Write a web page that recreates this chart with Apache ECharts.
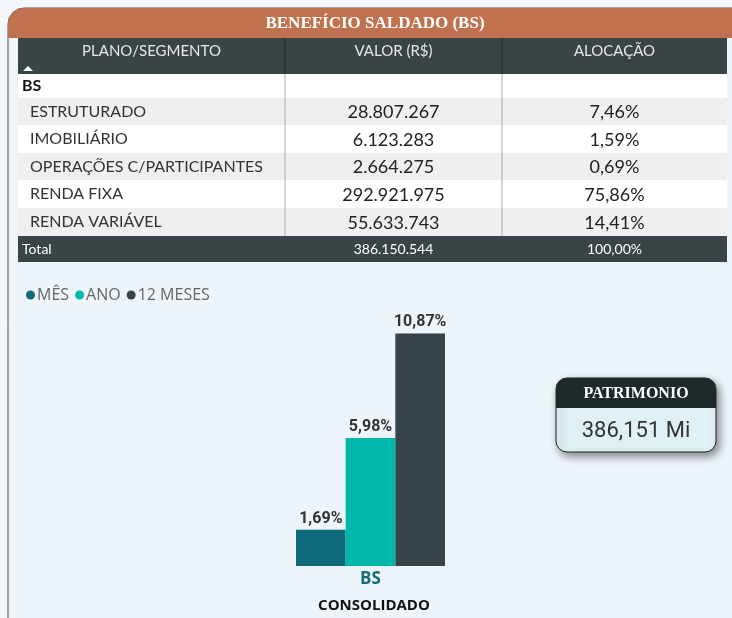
<!DOCTYPE html>
<html>
<head>
<meta charset="utf-8">
<script src="https://cdn.jsdelivr.net/npm/echarts@6/dist/echarts.min.js"></script>
<style>
  html, body { margin: 0; padding: 0; background: #f4f7fa; }
  #chart { width: 732px; height: 618px; }
</style>
</head>
<body>
<div id="chart"></div>
<script>
// dados da tabela
const titulo = 'BENEFÍCIO SALDADO (BS)';
const colunas = ['PLANO/SEGMENTO', 'VALOR (R$)', 'ALOCAÇÃO'];
const plano = 'BS';
const segmentos = ['ESTRUTURADO', 'IMOBILIÁRIO', 'OPERAÇÕES C/PARTICIPANTES', 'RENDA FIXA', 'RENDA VARIÁVEL'];
const valores = [28807267, 6123283, 2664275, 292921975, 55633743];
const alocacao = [7.46, 1.59, 0.69, 75.86, 14.41];
const totalValor = 386150544;
const totalAlocacao = 100.00;

// rentabilidade
const categorias = ['BS'];
const periodos = ['MÊS', 'ANO', '12 MESES'];
const rentabilidade = [1.69, 5.98, 10.87];
const cores = ['#0e6a7b', '#00b8a9', '#37454b'];
const patrimonio = '386,151 Mi';

function fmtInt(n){ return String(n).replace(/\B(?=(\d{3})+(?!\d))/g, '.'); }
function fmtPct(v){ return v.toFixed(2).replace('.', ',') + '%'; }

const chart = echarts.init(document.getElementById('chart'));

// layout da tabela
const tx = [18, 285, 502, 727];
const rowTops = [74, 98, 125, 153, 180, 208, 236, 262];
const bodyFont = 'Lato, "Open Sans", sans-serif';

const g = [];
// painel
g.push({ type: 'rect', shape: { x: 8, y: 8, width: 740, height: 640, r: 16 },
  style: { fill: '#edf4fa', stroke: '#4a4f52', lineWidth: 1 }, z: 0 });
g.push({ type: 'rect', shape: { x: 8, y: 8, width: 740, height: 30, r: [16, 16, 0, 0] },
  style: { fill: '#c0714e' }, z: 1 });
g.push({ type: 'text', x: 375, y: 24, style: { text: titulo, fill: '#fff', font: 'bold 17px "Liberation Serif", "DejaVu Serif", serif',
  align: 'center', verticalAlign: 'middle' }, z: 2 });
// cabeçalho
g.push({ type: 'rect', shape: { x: tx[0], y: 38, width: tx[3] - tx[0], height: 36 }, style: { fill: '#3a4446' }, z: 1 });
colunas.forEach((c, i) => {
  g.push({ type: 'text', x: (tx[i] + tx[i + 1]) / 2, y: 51, style: { text: c, fill: '#e6e6e6', font: '15px ' + bodyFont,
    align: 'center', verticalAlign: 'middle' }, z: 2 });
});
[1, 2].forEach(i => g.push({ type: 'line', shape: { x1: tx[i], y1: 38, x2: tx[i], y2: 74 }, style: { stroke: '#222', lineWidth: 1 }, z: 2 }));
g.push({ type: 'polygon', shape: { points: [[23, 71], [33, 71], [28, 66]] }, style: { fill: '#fff' }, z: 2 });

// linha BS
g.push({ type: 'rect', shape: { x: tx[0], y: rowTops[0], width: tx[3] - tx[0], height: rowTops[1] - rowTops[0] }, style: { fill: '#fff' }, z: 1 });
g.push({ type: 'text', x: 22, y: (rowTops[0] + rowTops[1]) / 2, style: { text: plano, fill: '#111', font: 'bold 16px ' + bodyFont,
  verticalAlign: 'middle' }, z: 2 });
segmentos.forEach((s, i) => {
  const y0 = rowTops[i + 1], y1 = rowTops[i + 2], cy = (y0 + y1) / 2;
  g.push({ type: 'rect', shape: { x: tx[0], y: y0, width: tx[3] - tx[0], height: y1 - y0 }, style: { fill: i % 2 === 0 ? '#efefef' : '#fff' }, z: 1 });
  g.push({ type: 'text', x: 30, y: cy, style: { text: s, fill: '#333', font: '16px ' + bodyFont, verticalAlign: 'middle' }, z: 2 });
  g.push({ type: 'text', x: (tx[1] + tx[2]) / 2, y: cy + 1, style: { text: fmtInt(valores[i]), fill: '#222', font: '18px ' + bodyFont,
    align: 'center', verticalAlign: 'middle' }, z: 2 });
  g.push({ type: 'text', x: (tx[2] + tx[3]) / 2, y: cy + 1, style: { text: fmtPct(alocacao[i]), fill: '#222', font: '18px ' + bodyFont,
    align: 'center', verticalAlign: 'middle' }, z: 2 });
});
[1, 2].forEach(i => g.push({ type: 'line', shape: { x1: tx[i], y1: rowTops[0], x2: tx[i], y2: rowTops[6] }, style: { stroke: '#aaa', lineWidth: 1 }, z: 2 }));
// total
const ty = (rowTops[6] + rowTops[7]) / 2;
g.push({ type: 'rect', shape: { x: tx[0], y: rowTops[6], width: tx[3] - tx[0], height: rowTops[7] - rowTops[6] }, style: { fill: '#3a4446' }, z: 1 });
g.push({ type: 'text', x: 22, y: ty, style: { text: 'Total', fill: '#fff', font: '14px ' + bodyFont, verticalAlign: 'middle' }, z: 2 });
g.push({ type: 'text', x: (tx[1] + tx[2]) / 2, y: ty, style: { text: fmtInt(totalValor), fill: '#fff', font: '14px ' + bodyFont,
  align: 'center', verticalAlign: 'middle' }, z: 2 });
g.push({ type: 'text', x: (tx[2] + tx[3]) / 2, y: ty, style: { text: fmtPct(totalAlocacao), fill: '#fff', font: '14px ' + bodyFont,
  align: 'center', verticalAlign: 'middle' }, z: 2 });

// rótulo consolidado
g.push({ type: 'text', x: 374, y: 606, style: { text: 'CONSOLIDADO', fill: '#111', font: 'bold 15px "Open Sans", sans-serif',
  align: 'center', verticalAlign: 'middle' }, z: 2 });

// cartão patrimonio
g.push({ type: 'rect', shape: { x: 556, y: 378, width: 160, height: 74, r: 11 },
  style: { fill: '#dff1f5', stroke: '#222', lineWidth: 1, shadowBlur: 8, shadowOffsetX: 3, shadowOffsetY: 4, shadowColor: 'rgba(0,0,0,0.45)' }, z: 3 });
g.push({ type: 'rect', shape: { x: 556, y: 378, width: 160, height: 30, r: [11, 11, 0, 0] }, style: { fill: '#1e2a29' }, z: 4 });
g.push({ type: 'text', x: 636, y: 394, style: { text: 'PATRIMONIO', fill: '#fff', font: 'bold 16px "Liberation Serif", "DejaVu Serif", serif',
  align: 'center', verticalAlign: 'middle' }, z: 5 });
g.push({ type: 'text', x: 636, y: 431, style: { text: patrimonio, fill: '#333', font: '22px Roboto, sans-serif',
  align: 'center', verticalAlign: 'middle' }, z: 5 });

const option = {
  backgroundColor: '#f4f7fa',
  animation: false,
  graphic: g,
  legend: {
    data: periodos, left: 21, top: 282, icon: 'circle', itemWidth: 9, itemHeight: 9, itemGap: 6,
    textStyle: { color: '#666', fontSize: 16, fontFamily: '"Open Sans", sans-serif', padding: [0, 0, 0, -3] }
  },
  grid: { left: 296, width: 149, top: 300, bottom: 52, containLabel: false },
  xAxis: {
    type: 'category', data: categorias,
    axisLine: { show: false }, axisTick: { show: false },
    axisLabel: { color: '#156b78', fontWeight: 'bold', fontSize: 17, fontFamily: '"Open Sans", sans-serif', margin: 5 }
  },
  yAxis: { type: 'value', min: 0, max: 12.43, show: false, splitLine: { show: false } },
  series: periodos.map((p, i) => ({
    name: p, type: 'bar', barGap: '0%', barCategoryGap: '0%',
    itemStyle: { color: cores[i] },
    data: [rentabilidade[i]],
    label: { show: true, position: 'top', distance: 3, formatter: d => fmtPct(d.value),
      color: '#333', fontWeight: 'bold', fontSize: 16, fontFamily: 'Roboto, sans-serif' }
  }))
};
chart.setOption(option);
</script>
</body>
</html>
